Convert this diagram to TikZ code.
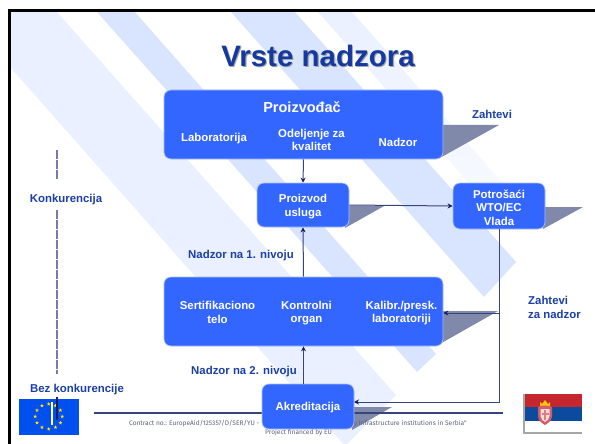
\documentclass[tikz,border=0pt]{standalone}
\usepackage{fontspec}
\setmainfont{Liberation Sans}
\newfontfamily\footfont{Fira Sans}
\usetikzlibrary{shapes.geometric,arrows.meta,calc}
\definecolor{bandlight}{HTML}{EAF0FF}
\definecolor{banddark}{HTML}{D9E5FF}
\definecolor{boxblue}{HTML}{3366FF}
\definecolor{boxedge}{HTML}{A9BEFF}
\definecolor{labelblue}{HTML}{1A3FA6}
\definecolor{titleblue}{HTML}{1439A0}
\definecolor{shadowgray}{HTML}{8089AA}
\definecolor{linenavy}{HTML}{37457F}
\definecolor{tipnavy}{HTML}{141F5C}
\definecolor{footgray}{HTML}{5A6078}
\definecolor{eublue}{HTML}{0050F0}
\definecolor{euyellow}{HTML}{FFE000}
\definecolor{srred}{HTML}{C6262E}
\definecolor{srblue}{HTML}{0C4A9E}
\tikzset{
  bluebox/.style={draw=boxedge,line width=0.7pt,fill=boxblue,rounded corners=7pt,inner sep=0pt},
  boxlabel/.style={inner sep=0pt,text=white,align=center,font=\fontsize{11.4}{13.5}\selectfont\bfseries},
  sidelabel/.style={inner sep=0pt,text=labelblue,align=center,font=\fontsize{11.4}{14}\selectfont\bfseries},
  conn/.style={draw=linenavy,line width=1pt},
  arrowconn/.style={conn,-{Stealth[length=5pt,width=5pt,color=tipnavy]}},
  sideline/.style={draw=#1,line width=1.3pt},
  footnote/.style={inner sep=0pt,text=footgray,font=\fontsize{6.6}{7}\footfont},
  eustar/.style={star,star points=5,star point ratio=2.4,fill=euyellow,inner sep=0pt,minimum size=4pt}
}
\begin{document}
\begin{tikzpicture}[x=1pt,y=-1pt]
\useasboundingbox (0,0) rectangle (595,444);
% background bands
\fill[bandlight] (10,12) -- (57,12) -- (396,395) -- (345,446) -- (10,67) -- cycle;
\fill[banddark] (97,12) -- (135,12) -- (436,354) -- (417,372) -- cycle;
\shade[top color=bandlight,bottom color=white!70!bandlight] (318,12) -- (352,12) -- (515,197) -- (496,214) -- cycle;
\fill[banddark] (231,12) -- (295,12) -- (516,262) -- (484,297) -- cycle;
% frame
\fill[black] (8,9.5) rectangle (595,12);
\fill[black] (8,9.5) rectangle (10.7,444);
% title
\node[inner sep=0pt,text=gray!70,font=\fontsize{29.5}{32}\selectfont\bfseries] (titleshadow) at (319.2,57.2) {Vrste nadzora};
\node[inner sep=0pt,text=titleblue,font=\fontsize{29.5}{32}\selectfont\bfseries] (title) at (318,56) {Vrste nadzora};
% shadows
\fill[shadowgray] (443,125) -- (499,125) -- (438,159) -- cycle;
\fill[shadowgray] (349,205.5) -- (385,205.5) -- (345,228) -- cycle;
\fill[shadowgray] (545,207) -- (583,207) -- (543,229) -- cycle;
\fill[shadowgray] (443,311) -- (498,311) -- (438,345) -- cycle;
\fill[shadowgray] (354,407) -- (392,407) -- (352,430) -- cycle;
% footer
\node[footnote,anchor=west] (contract) at (129,424) {Contract no.: EuropeAid/125357/D/SER/YU -};
\node[footnote,anchor=east] (infra) at (467,424) {y Infrastructure institutions in Serbia"};
\node[footnote,anchor=west] (financed) at (265,433) {Project financed by EU};
\coordinate (footL) at (94,413);
\coordinate (footR) at (503,413);
\draw[draw=linenavy,line width=1.3pt] (footL) -- (footR);
% boxes
\node[bluebox,minimum width=279pt,minimum height=69pt] (B1) at (303.5,124.5) {};
\node[bluebox,minimum width=92pt,minimum height=44pt] (B2) at (303,205) {};
\node[bluebox,minimum width=92pt,minimum height=46pt] (B3) at (499,206) {};
\node[bluebox,minimum width=279pt,minimum height=69pt] (B4) at (303.5,311.5) {};
\node[bluebox,minimum width=92pt,minimum height=45pt] (B5) at (308,406.5) {};
% box labels
\node[boxlabel,font=\fontsize{14.5}{16}\selectfont\bfseries] (proizvodjac) at (302,107) {Proizvođač};
\node[boxlabel] (lab) at (214,138.5) {Laboratorija};
\node[boxlabel] (odeljenje) at (311.5,140) {Odeljenje za\\kvalitet};
\node[boxlabel] (nadzor) at (398,142) {Nadzor};
\node[boxlabel] (proizvod) at (303,206.5) {Proizvod\\usluga};
\node[boxlabel] (potrosaci) at (499,207.5) {Potrošaći\\WTO/EC\\Vlada};
\node[boxlabel] (sert) at (217.5,312.5) {Sertifikaciono\\telo};
\node[boxlabel] (kontrolni) at (306.5,313) {Kontrolni\\organ};
\node[boxlabel] (kalibr) at (401.5,313) {Kalibr./presk.\\laboratoriji};
\node[boxlabel] (akred) at (308,408) {Akreditacija};
% connectors
\coordinate (a5) at (354,402);
\coordinate (j1) at (B3.south |- 0,313);
\draw[arrowconn] (B1.south) -- (B2.north);
\draw[arrowconn] (B4.north) -- (B2.south);
\draw[arrowconn] (B5.north -| B4.south) -- (B4.south);
\draw[arrowconn] (B2.east) -- (B3.west);
\draw[arrowconn] (B3.south) |- (a5);
\draw[arrowconn] (j1) -- (B4.east |- j1);
% side labels
\node[sidelabel] (zahtevi) at (492,114) {Zahtevi};
\node[sidelabel] (konk) at (66,199.5) {Konkurencija};
\node[sidelabel] (nivo1) at (241,255.5) {Nadzor na 1. nivoju};
\node[sidelabel] (nivo2) at (244,371.5) {Nadzor na 2. nivoju};
\node[sidelabel] (bez) at (77,389.5) {Bez konkurencije};
\node[sidelabel,align=left,anchor=west] (zzn) at (528,307) {Zahtevi\\za nadzor};
% EU flag
\fill[eublue] (19,399) rectangle (79,435);
\coordinate (euc) at (48.7,416.5);
\foreach \a in {0,30,...,330}{
  \node[eustar] (st\a) at ($(euc)+(\a:13.5 and 12.5)$) {};
}
\fill[white] (51,402) rectangle (53,425);
% vertical line
\coordinate (v1) at (57,150);
\coordinate (v2) at (57,179.5);
\coordinate (v3) at (57,210);
\coordinate (v4) at (57,374);
\coordinate (v5) at (57,397);
\coordinate (v6) at (57,420);
\draw[sideline=linenavy!70!white,dash pattern=on 9.4pt off 0.6pt] (v1) -- (v2);
\draw[sideline=linenavy!70!white,dash pattern=on 9.4pt off 0.6pt] (v3) -- (v4);
\draw[sideline=tipnavy] (v5) -- (v6);
% Serbian flag
\fill[srred] (523,394) rectangle (582,407);
\fill[srblue] (523,407) rectangle (582,421);
\fill[white] (523,421) rectangle (582,432);
\fill[gray!70] (523,432) rectangle (582,434);
\fill[gray!70] (523,394) rectangle (525,434);
\fill[yellow!60!orange] (540,402) -- (542,404) -- (545,400) -- (548,404) -- (550,402) -- (550,407) -- (540,407) -- cycle;
\fill[srred!75!white] (538,407) .. controls (541,405) and (549,405) .. (552,407) -- (552,416) .. controls (552,421) and (548,423) .. (545,425) .. controls (542,423) and (538,421) .. (538,416) -- cycle;
\fill[white!85!srred] (540.5,409) -- (549.5,409) -- (549.5,416) .. controls (549.5,419) and (547,421) .. (545,422) .. controls (543,421) and (540.5,419) .. (540.5,416) -- cycle;
\fill[srred!60!white] (544,410) rectangle (546,420);
\fill[srred!60!white] (541.5,413) rectangle (548.5,415);
\end{tikzpicture}
\end{document}
